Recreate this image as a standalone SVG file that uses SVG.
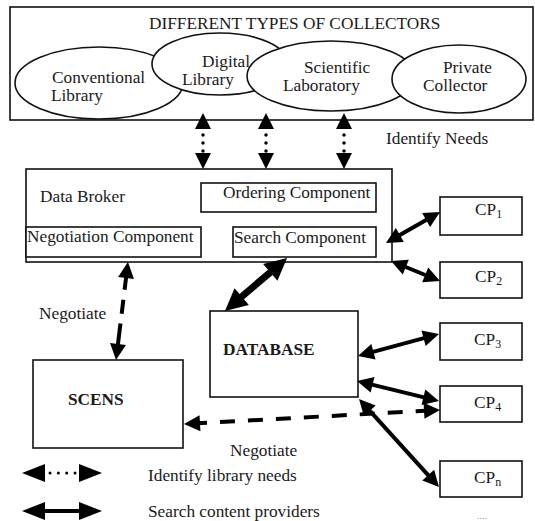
<svg xmlns="http://www.w3.org/2000/svg" width="535" height="521" viewBox="0 0 535 521">
<style>
text{font-family:"Liberation Serif","Times New Roman",serif;font-size:17.3px;fill:#1a1a1a}
.b{font-weight:bold}
.sub{font-size:12px}
.box{fill:#fff;stroke:#111;stroke-width:1.6}
.ell{fill:#fff;stroke:#111;stroke-width:1.6}
.solid{stroke:#000;stroke-width:4;fill:none;marker-start:url(#ah);marker-end:url(#ah)}
.heavy{stroke:#000;stroke-width:7;fill:none;marker-start:url(#ahb);marker-end:url(#ahb)}
.dot{stroke:#000;stroke-width:3.5;fill:none;stroke-linecap:round;stroke-dasharray:0.01 8;marker-start:url(#ah);marker-end:url(#ah)}
.dash{stroke:#000;stroke-width:4;fill:none;marker-start:url(#ah);marker-end:url(#ah)}
</style>
<defs>
<marker id="ah" markerUnits="userSpaceOnUse" markerWidth="16" markerHeight="16" refX="8" refY="8" orient="auto-start-reverse" overflow="visible"><path d="M0,0 L16,8 L0,16 z" fill="#000"/></marker>
<marker id="ahb" markerUnits="userSpaceOnUse" markerWidth="22" markerHeight="22" refX="10" refY="11" orient="auto-start-reverse" overflow="visible"><path d="M0,0 L22,11 L0,22 z" fill="#000"/></marker>
<marker id="ahl" markerUnits="userSpaceOnUse" markerWidth="23" markerHeight="18" refX="15" refY="9" orient="auto-start-reverse" overflow="visible"><path d="M0,0 L23,9 L0,18 z" fill="#000"/></marker>
</defs>
<rect width="535" height="521" fill="#fff"/>

<g id="collectors">
<rect class="box" x="10" y="7" width="523" height="113" stroke-width="2"/>
<text x="149" y="29">DIFFERENT TYPES OF COLLECTORS</text>
<g id="conventional-library"><ellipse class="ell" cx="99" cy="83" rx="84" ry="36"/><text x="52" y="83">Conventional</text><text x="51" y="101">Library</text></g>
<g id="digital-library"><ellipse class="ell" cx="220" cy="64" rx="68" ry="31"/><text x="202" y="67">Digital</text><text x="182" y="85">Library</text></g>
<g id="scientific-laboratory"><ellipse class="ell" cx="331" cy="76" rx="84" ry="35"/><text x="304" y="73">Scientific</text><text x="283" y="91">Laboratory</text></g>
<g id="private-collector"><ellipse class="ell" cx="459" cy="79" rx="67" ry="34"/><text x="443" y="73">Private</text><text x="423" y="91">Collector</text></g>
</g>

<g id="data-broker">
<rect class="box" x="26" y="169" width="366" height="93"/>
<text x="40" y="202">Data Broker</text>
<g id="ordering-component"><rect class="box" x="201" y="183" width="175" height="29"/><text x="223" y="198">Ordering Component</text></g>
<g id="negotiation-component"><rect class="box" x="26" y="227" width="175" height="30"/><text x="27" y="242">Negotiation Component</text></g>
<g id="search-component"><rect class="box" x="233" y="227" width="143" height="30"/><text x="234" y="243">Search Component</text></g>
</g>

<g id="cp1"><rect class="box" x="440" y="197" width="82" height="38"/><text x="475" y="215">CP<tspan class="sub" dy="3">1</tspan></text></g>
<g id="cp2"><rect class="box" x="440" y="262" width="82" height="36"/><text x="475" y="282">CP<tspan class="sub" dy="3">2</tspan></text></g>
<g id="cp3"><rect class="box" x="440" y="323" width="82" height="37"/><text x="474" y="345">CP<tspan class="sub" dy="3">3</tspan></text></g>
<g id="cp4"><rect class="box" x="440" y="386" width="82" height="36"/><text x="474" y="408">CP<tspan class="sub" dy="3">4</tspan></text></g>
<g id="cpn"><rect class="box" x="440" y="461" width="82" height="36"/><text x="474" y="483">CP<tspan class="sub" dy="3">n</tspan></text></g>
<text x="477" y="519" style="font-size:10px;fill:#999">....</text>

<g id="database"><rect class="box" x="210" y="311" width="148" height="86"/><text class="b" x="223" y="355">DATABASE</text></g>
<g id="scens"><rect class="box" x="33" y="360" width="150" height="88"/><text class="b" x="68" y="405">SCENS</text></g>

<g id="connectors">
<line class="dot" x1="203" y1="121" x2="203" y2="161" stroke-dashoffset="2"/>
<line class="dot" x1="266" y1="121" x2="266" y2="161" stroke-dashoffset="2"/>
<line class="dot" x1="344" y1="121" x2="344" y2="161" stroke-dashoffset="2"/>
<line class="solid" x1="392.9" y1="239" x2="433.1" y2="216"/>
<line class="solid" x1="398.4" y1="264" x2="432.6" y2="278"/>
<line class="solid" x1="365.7" y1="353.9" x2="431.3" y2="336.1"/>
<line class="solid" x1="364.8" y1="382.9" x2="431.2" y2="399.1"/>
<line class="solid" x1="364.4" y1="404.9" x2="433.6" y2="481.1"/>
<line class="heavy" x1="277.9" y1="265.8" x2="234.1" y2="303.2"/>
<line class="dash" x1="127" y1="270" x2="117" y2="352" stroke-dasharray="20 10 14 10 30"/>
<line class="dash" x1="192" y1="423.6" x2="432" y2="410.4" stroke-dasharray="15 13"/>
</g>
<text x="386" y="144">Identify Needs</text>
<text x="39" y="319">Negotiate</text>
<text x="230" y="456">Negotiate</text>

<g id="legend">
<line x1="30" y1="473" x2="94" y2="473" stroke="#000" stroke-width="3" stroke-linecap="round" stroke-dasharray="0.01 8.33" stroke-dashoffset="5" marker-start="url(#ahl)" marker-end="url(#ahl)"/>
<text x="148" y="481">Identify library needs</text>
<line x1="30" y1="511" x2="94" y2="511" stroke="#000" stroke-width="4" marker-start="url(#ahl)" marker-end="url(#ahl)"/>
<text x="148" y="517">Search content providers</text>
</g>
</svg>
